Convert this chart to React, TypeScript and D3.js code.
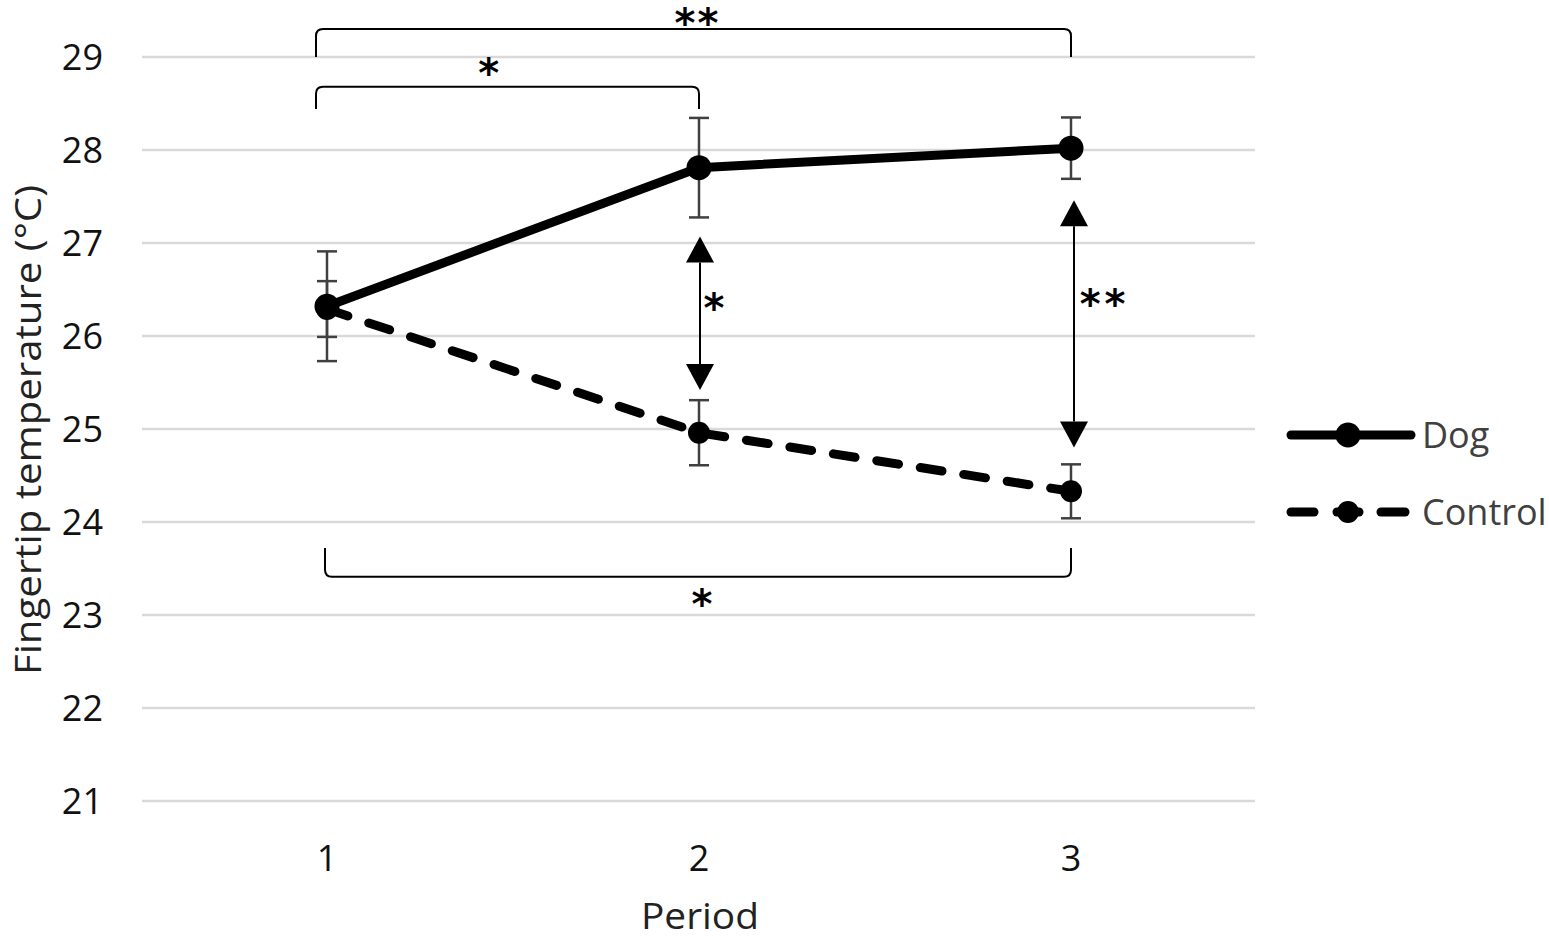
import { useRef, useEffect } from 'react';
import * as d3 from 'd3';

const WIDTH = 1549;
const HEIGHT = 940;
const FONT = '"Open Sans", "Noto Sans", sans-serif';
const STAR_FONT = '"DejaVu Sans", sans-serif';

const periods = [1, 2, 3];
const yTicks = [21, 22, 23, 24, 25, 26, 27, 28, 29];

const dogMean = [26.32, 27.81, 28.02];
const dogErr = [0.59, 0.535, 0.33];
const controlMean = [26.29, 24.96, 24.33];
const controlErr = [0.3, 0.35, 0.29];

// significance brackets: [from, to, bar value, end value, label, label period, label value]
const brackets: [number, number, number, number, string, number, number][] = [
  [1, 3, 29.3, 29.0, '**', 1.993, 29.46],
  [1, 2, 28.68, 28.44, '*', 1.435, 28.91],
  [1, 3, 23.41, 23.72, '*', 2.008, 23.2],
];

// between-group arrows: [period, top value, bottom value, label, label period, label value]
const arrows: [number, number, number, string, number, number][] = [
  [2, 27.07, 25.42, '*', 2.04, 26.39],
  [3, 27.46, 24.8, '**', 3.085, 26.43],
];

const legendItems = [
  { name: 'Dog', dashed: false },
  { name: 'Control', dashed: true },
];

export default function App() {
  const svgRef = useRef<SVGSVGElement>(null);

  useEffect(() => {
    if (!svgRef.current) return;
    const svg = d3.select(svgRef.current);
    svg.selectAll('*').remove();

    const x = d3.scaleLinear().domain([1, 3]).range([327, 1071]);
    const y = d3.scaleLinear().domain([21, 29]).range([801, 57]);
    const gridX0 = 142;
    const gridX1 = 1255;

    svg.append('rect').attr('width', WIDTH).attr('height', HEIGHT).attr('fill', '#fff');

    // Grid lines
    svg.append('g')
      .selectAll('line')
      .data(yTicks)
      .join('line')
      .attr('x1', gridX0).attr('x2', gridX1)
      .attr('y1', (d) => y(d)).attr('y2', (d) => y(d))
      .attr('stroke', '#d9d9d9')
      .attr('stroke-width', 2.5);

    // Y tick labels
    svg.append('g')
      .selectAll('text')
      .data(yTicks)
      .join('text')
      .attr('x', 103)
      .attr('y', (d) => y(d))
      .attr('dy', '0.35em')
      .attr('text-anchor', 'end')
      .attr('font-family', FONT)
      .attr('font-size', 36)
      .attr('fill', '#111')
      .text((d) => d);

    // X tick labels
    svg.append('g')
      .selectAll('text')
      .data(periods)
      .join('text')
      .attr('x', (d) => x(d))
      .attr('y', 858)
      .attr('dy', '0.35em')
      .attr('text-anchor', 'middle')
      .attr('font-family', FONT)
      .attr('font-size', 36)
      .attr('fill', '#111')
      .text((d) => d);

    // Axis titles
    svg.append('text')
      .attr('x', 700).attr('y', 929)
      .attr('text-anchor', 'middle')
      .attr('font-family', FONT)
      .attr('font-size', 37)
      .attr('textLength', 118)
      .attr('lengthAdjust', 'spacingAndGlyphs')
      .attr('fill', '#222')
      .text('Period');

    svg.append('text')
      .attr('transform', `translate(41,430) rotate(-90)`)
      .attr('text-anchor', 'middle')
      .attr('font-family', FONT)
      .attr('font-size', 37)
      .attr('textLength', 490)
      .attr('lengthAdjust', 'spacingAndGlyphs')
      .attr('fill', '#222')
      .text('Fingertip temperature (°C)');

    // Error bars
    const drawErr = (means: number[], errs: number[]) => {
      const g = svg.append('g').attr('stroke', '#404040').attr('stroke-width', 2.5);
      periods.forEach((p, i) => {
        const cx = x(p);
        const t = y(means[i] + errs[i]);
        const b = y(means[i] - errs[i]);
        g.append('line').attr('x1', cx).attr('x2', cx).attr('y1', t).attr('y2', b);
        g.append('line').attr('x1', cx - 10).attr('x2', cx + 10).attr('y1', t).attr('y2', t);
        g.append('line').attr('x1', cx - 10).attr('x2', cx + 10).attr('y1', b).attr('y2', b);
      });
    };
    drawErr(controlMean, controlErr);
    drawErr(dogMean, dogErr);

    const line = d3.line<number>()
      .x((_, i) => x(periods[i]))
      .y((d) => y(d));

    // Control line
    svg.append('path')
      .datum(controlMean)
      .attr('fill', 'none')
      .attr('stroke', '#000')
      .attr('stroke-width', 9)
      .attr('stroke-linecap', 'round')
      .attr('stroke-dasharray', '22 22')
      .attr('d', line);
    svg.append('g')
      .selectAll('circle')
      .data(controlMean)
      .join('circle')
      .attr('cx', (_, i) => x(periods[i]))
      .attr('cy', (d) => y(d))
      .attr('r', 11)
      .attr('fill', '#000');

    // Dog line
    svg.append('path')
      .datum(dogMean)
      .attr('fill', 'none')
      .attr('stroke', '#000')
      .attr('stroke-width', 9)
      .attr('stroke-linejoin', 'round')
      .attr('stroke-linecap', 'round')
      .attr('d', line);
    svg.append('g')
      .selectAll('circle')
      .data(dogMean)
      .join('circle')
      .attr('cx', (_, i) => x(periods[i]))
      .attr('cy', (d) => y(d))
      .attr('r', 12.5)
      .attr('fill', '#000');

    const star = (g: d3.Selection<SVGGElement, unknown, null, undefined>, cx: number, cy: number, label: string, spacing: number) => {
      // asterisk glyph sits ~0.545em above the baseline
      g.append('text')
        .attr('x', cx + spacing / 2).attr('y', cy + 21.8)
        .attr('text-anchor', 'middle')
        .attr('font-family', STAR_FONT)
        .attr('font-weight', 'bold')
        .attr('font-size', 40)
        .attr('letter-spacing', spacing)
        .attr('fill', '#000')
        .text(label);
    };

    // Brackets
    const bg = svg.append('g');
    brackets.forEach(([a, b, bar, end, label, lp, lv]) => {
      const x0 = x(a) - (bar > 25 ? 11 : 2);
      const x1 = x(b);
      const yb = y(bar);
      const ye = y(end);
      const r = 7;
      const s = ye > yb ? 1 : -1;
      bg.append('path')
        .attr('d', `M${x0},${ye} L${x0},${yb + s * r} Q${x0},${yb} ${x0 + r},${yb} L${x1 - r},${yb} Q${x1},${yb} ${x1},${yb + s * r} L${x1},${ye}`)
        .attr('fill', 'none')
        .attr('stroke', '#000')
        .attr('stroke-width', 2);
      star(bg, x(lp), Math.max(y(lv), 15), label, label.length > 1 ? 2 : 0);
    });

    // Arrows
    const ag = svg.append('g');
    arrows.forEach(([p, top, bottom, label, lp, lv]) => {
      const ax = x(p) + (p === 3 ? 3 : 1);
      const yt = y(top);
      const yb2 = y(bottom);
      const hw = 14;
      const hh = 26;
      ag.append('line')
        .attr('x1', ax).attr('x2', ax)
        .attr('y1', yt + hh).attr('y2', yb2 - hh)
        .attr('stroke', '#000').attr('stroke-width', 2);
      ag.append('path')
        .attr('d', `M${ax},${yt} L${ax - hw},${yt + hh} L${ax + hw},${yt + hh} Z`)
        .attr('fill', '#000');
      ag.append('path')
        .attr('d', `M${ax},${yb2} L${ax - hw},${yb2 - hh} L${ax + hw},${yb2 - hh} Z`)
        .attr('fill', '#000');
      star(ag, x(lp), y(lv), label, label.length > 1 ? 4 : 0);
    });

    // Legend
    const lg = svg.append('g');
    legendItems.forEach((item, i) => {
      const ly = 435 + i * 77;
      if (item.dashed) {
        [[1291, 1314], [1381, 1405]].forEach(([a, b]) => {
          lg.append('line')
            .attr('x1', a).attr('x2', b).attr('y1', ly).attr('y2', ly)
            .attr('stroke', '#000').attr('stroke-width', 9).attr('stroke-linecap', 'round');
        });
        lg.append('line')
          .attr('x1', 1337).attr('x2', 1359).attr('y1', ly).attr('y2', ly)
          .attr('stroke', '#000').attr('stroke-width', 9).attr('stroke-linecap', 'round');
        lg.append('circle').attr('cx', 1348).attr('cy', ly).attr('r', 11).attr('fill', '#000');
      } else {
        lg.append('line')
          .attr('x1', 1291).attr('x2', 1411).attr('y1', ly).attr('y2', ly)
          .attr('stroke', '#000').attr('stroke-width', 9).attr('stroke-linecap', 'round');
        lg.append('circle').attr('cx', 1348).attr('cy', ly).attr('r', 12.5).attr('fill', '#000');
      }
      lg.append('text')
        .attr('x', 1422).attr('y', ly)
        .attr('dy', '0.35em')
        .attr('font-family', FONT)
        .attr('font-size', 36)
        .attr('fill', '#404040')
        .text(item.name);
    });
  }, []);

  return (
    <svg
      ref={svgRef}
      width={WIDTH}
      height={HEIGHT}
      viewBox={`0 0 ${WIDTH} ${HEIGHT}`}
      style={{ position: 'absolute', left: 0, top: 0, display: 'block' }}
    />
  );
}
